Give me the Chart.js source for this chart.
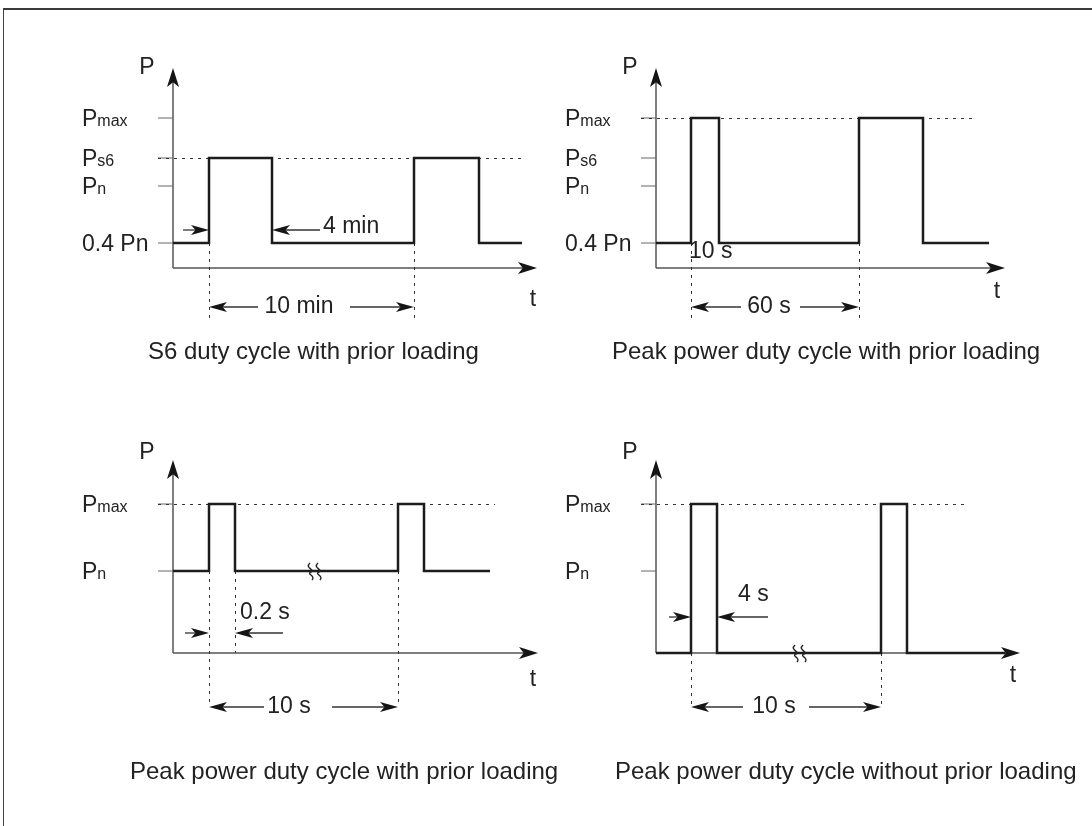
<!DOCTYPE html>
<html>
<head>
<meta charset="utf-8">
<script src="https://cdn.jsdelivr.net/npm/chart.js@4.4.1/dist/chart.umd.min.js"></script>
<style>
    html, body { margin: 0; padding: 0; background: #fff; }
    #page { position: relative; width: 1092px; height: 826px; overflow: hidden; }
    #frame { position: absolute; left: 3px; top: 8px; right: -2px; bottom: -2px; border-top: 2px solid #3a3a3a; border-left: 1px solid #444; }
    canvas { position: absolute; left: 0; top: 0; }
</style>
</head>
<body>
<div id="page">
    <div id="frame"></div>
    <canvas id="c1" width="1092" height="826"></canvas>
    <canvas id="c2" width="1092" height="826"></canvas>
    <canvas id="c3" width="1092" height="826"></canvas>
    <canvas id="c4" width="1092" height="826"></canvas>
</div>
<script>
// time and power are in arbitrary diagram units (the sketch is not to scale)
const s6Time = [0, 18, 49.5, 120.5, 153, 174.5];
const s6Power = [12.5, 55, 12.5, 55, 12.5, 12.5];
const peakPriorTime = [0, 17.5, 31.5, 101.5, 133.5, 166.5];
const peakPriorPower = [12.5, 75, 12.5, 75, 12.5, 12.5];
const shortPeakTime = [0, 18, 31, 112.5, 125.5, 158.5];
const shortPeakPower = [41, 74.5, 41, 74.5, 41, 41];
const noPriorTime = [0, 17.5, 30.5, 112.5, 125.5, 174.5];
const noPriorPower = [0, 74.5, 0, 74.5, 0, 0];

const topTickLabels = [['P', 'max'], ['P', 's6'], ['P', 'n'], ['0.4 Pn', '']];
const topTickLevels = [75, 55, 41, 12.5];
const bottomTickLabels = [['P', 'max'], ['P', 'n']];
const bottomTickLevels = [74.5, 41];

const captions = [
    'S6 duty cycle with prior loading',
    'Peak power duty cycle with prior loading',
    'Peak power duty cycle with prior loading',
    'Peak power duty cycle without prior loading',
];

const FONT = "'Liberation Sans', Arial, Helvetica, sans-serif";
const INK = '#222';

const panels = [
    {
        id: 'c1', time: s6Time, power: s6Power, xMax: 182, yMax: 100,
        pad: { left: 173, right: 555, top: 68, bottom: 558 },
        tickLabels: topTickLabels, tickLevels: topTickLevels, refLevel: 55, refEnd: 174.5,
        drops: [[18, 12.5, -26], [120.5, 12.5, -26]],
        span: { from: 18, to: 120.5, y: -19.5, text: '10 min', at: 63, gap: [42.5, 88.5] },
        pair: { y: 19, tailA: 5, tipA: 18, tipB: 49.5, tailB: 73.5 },
        notes: [{ text: '4 min', x: 75, y: 20.5 }],
        tLabel: [180, -16], caption: { text: captions[0], x: -12.5, y: -42 },
    },
    {
        id: 'c2', time: peakPriorTime, power: peakPriorPower, xMax: 174.5, yMax: 100,
        pad: { left: 656, right: 87, top: 68, bottom: 558 },
        tickLabels: topTickLabels, tickLevels: topTickLevels, refLevel: 75, refEnd: 158.5,
        drops: [[17.5, 12.5, -26], [101.5, 12.5, -26]],
        span: { from: 17.5, to: 101.5, y: -19.5, text: '60 s', at: 56.5, gap: [42.5, 72] },
        notes: [{ text: '10 s', x: 16.5, y: 8 }],
        tLabel: [170.5, -12], caption: { text: captions[1], x: -22, y: -42 },
    },
    {
        id: 'c3', time: shortPeakTime, power: shortPeakPower, xMax: 182.5, yMax: 96.5,
        pad: { left: 173, right: 554, top: 460, bottom: 173 },
        tickLabels: bottomTickLabels, tickLevels: bottomTickLevels, refLevel: 74.5, refEnd: 161,
        drops: [[18, 41, -26], [31, 41, 0], [112.5, 41, -26]],
        span: { from: 18, to: 112.5, y: -27, text: '10 s', at: 58, gap: [45.5, 79.5] },
        pair: { y: 10, tailA: 6, tipA: 18, tipB: 31, tailB: 55 },
        notes: [{ text: '0.2 s', x: 33.5, y: 20 }],
        breakAt: [71, 41],
        tLabel: [180, -13.5], caption: { text: captions[2], x: -21.5, y: -59.5 },
    },
    {
        id: 'c4', time: noPriorTime, power: noPriorPower, xMax: 182, yMax: 96.5,
        pad: { left: 656, right: 72, top: 460, bottom: 173 },
        tickLabels: bottomTickLabels, tickLevels: bottomTickLevels, refLevel: 74.5, refEnd: 156,
        drops: [[17.5, 0, -26], [112.5, 0, -26]],
        span: { from: 17.5, to: 112.5, y: -27, text: '10 s', at: 59, gap: [43.5, 76.5] },
        pair: { y: 18, tailA: 6.5, tipA: 17.5, tipB: 30.5, tailB: 56 },
        notes: [{ text: '4 s', x: 41, y: 29 }],
        breakAt: [72, 0],
        tLabel: [178.5, -11.5], caption: { text: captions[3], x: -20.5, y: -59.5 },
    },
];

function arrowHead(ctx, x, y, angle, len, half) {
    ctx.save();
    ctx.translate(x, y);
    ctx.rotate(angle);
    ctx.beginPath();
    ctx.moveTo(0, 0);
    ctx.lineTo(-len, -half);
    ctx.lineTo(-len * 0.75, 0);
    ctx.lineTo(-len, half);
    ctx.closePath();
    ctx.fill();
    ctx.restore();
}

function line(ctx, x1, y1, x2, y2) {
    ctx.beginPath();
    ctx.moveTo(x1, y1);
    ctx.lineTo(x2, y2);
    ctx.stroke();
}

const diagramPlugin = {
    id: 'diagram',
    beforeDatasetsDraw(chart) {
        const p = chart.options.plugins.diagram;
        const { ctx } = chart;
        const xs = chart.scales.x, ys = chart.scales.y;
        const X = (v) => xs.getPixelForValue(v);
        const Y = (v) => ys.getPixelForValue(v);
        const ox = X(0), oy = Y(0);

        ctx.save();
        // axes
        ctx.strokeStyle = '#555';
        ctx.fillStyle = '#151515';
        ctx.lineWidth = 1.5;
        line(ctx, ox, oy, ox, Y(p.yMax) + 10);
        line(ctx, ox, oy, X(p.xMax) - 10, oy);
        arrowHead(ctx, ox, Y(p.yMax), -Math.PI / 2, 19, 6);
        arrowHead(ctx, X(p.xMax), oy, 0, 19, 6);

        // ticks
        ctx.strokeStyle = '#666';
        ctx.lineWidth = 1;
        p.tickLevels.forEach((lv) => line(ctx, ox - 15, Y(lv), ox, Y(lv)));

        // dotted reference and drop lines
        ctx.strokeStyle = '#333';
        ctx.setLineDash([3, 5]);
        line(ctx, ox - 15, Math.round(Y(p.refLevel)) + 0.5, X(p.refEnd), Math.round(Y(p.refLevel)) + 0.5);
        p.drops.forEach(([x, y1, y2]) => {
            const px = Math.round(X(x)) + 0.5;
            line(ctx, px, Y(y1), px, Y(y2));
        });
        ctx.setLineDash([]);
        ctx.restore();
    },
    afterDatasetsDraw(chart) {
        const p = chart.options.plugins.diagram;
        const { ctx } = chart;
        const xs = chart.scales.x, ys = chart.scales.y;
        const X = (v) => xs.getPixelForValue(v);
        const Y = (v) => ys.getPixelForValue(v);
        const ox = X(0);

        ctx.save();
        ctx.fillStyle = INK;
        ctx.strokeStyle = '#333';
        ctx.lineWidth = 1.3;

        // axis names
        ctx.font = `23px ${FONT}`;
        ctx.textAlign = 'center';
        ctx.textBaseline = 'middle';
        ctx.fillText('P', ox - 26, Y(100));
        ctx.fillText('t', X(p.tLabel[0]), Y(p.tLabel[1]));

        // tick labels with subscripts
        ctx.textAlign = 'left';
        ctx.textBaseline = 'alphabetic';
        p.tickLabels.forEach(([main, sub], i) => {
            const y = Y(p.tickLevels[i]) + 8;
            const x = ox - 91;
            ctx.font = `23px ${FONT}`;
            ctx.fillText(main, x, y);
            if (sub) {
                const w = ctx.measureText(main).width;
                ctx.font = `16px ${FONT}`;
                ctx.fillText(sub, x + w, y);
            }
        });

        // dimension line with centered text
        const s = p.span;
        const sy = Y(s.y);
        line(ctx, X(s.from) + 8, sy, X(s.gap[0]), sy);
        line(ctx, X(s.gap[1]), sy, X(s.to) - 8, sy);
        ctx.fillStyle = '#151515';
        arrowHead(ctx, X(s.from), sy, Math.PI, 18, 5);
        arrowHead(ctx, X(s.to), sy, 0, 18, 5);
        ctx.fillStyle = INK;
        ctx.font = `23px ${FONT}`;
        ctx.textAlign = 'center';
        ctx.textBaseline = 'middle';
        ctx.fillText(s.text, X(s.at), sy);

        // pair of arrows pointing at a pulse
        if (p.pair) {
            const a = p.pair;
            const ay = Y(a.y);
            line(ctx, X(a.tailA), ay, X(a.tipA) - 8, ay);
            line(ctx, X(a.tipB) + 8, ay, X(a.tailB), ay);
            ctx.fillStyle = '#151515';
            arrowHead(ctx, X(a.tipA), ay, 0, 18, 5);
            arrowHead(ctx, X(a.tipB), ay, Math.PI, 18, 5);
        }

        // free notes
        ctx.fillStyle = INK;
        ctx.textAlign = 'left';
        p.notes.forEach((n) => ctx.fillText(n.text, X(n.x), Y(n.y)));

        // break mark
        if (p.breakAt) {
            const bx = X(p.breakAt[0]), by = Y(p.breakAt[1]);
            ctx.lineWidth = 1.4;
            ctx.strokeStyle = '#222';
            [-4, 4].forEach((d) => {
                const cx = bx + d;
                ctx.beginPath();
                ctx.moveTo(cx - 1, by - 8);
                ctx.bezierCurveTo(cx - 7, by - 3, cx + 5, by - 1, cx, by + 1);
                ctx.bezierCurveTo(cx - 5, by + 3, cx + 5, by + 5, cx + 1, by + 9);
                ctx.stroke();
            });
        }

        // caption
        ctx.fillStyle = INK;
        ctx.font = `24px ${FONT}`;
        ctx.textAlign = 'left';
        ctx.fillText(p.caption.text, X(p.caption.x), Y(p.caption.y));
        ctx.restore();
    },
};

panels.forEach((panel) => {
    const points = panel.time.map((t, i) => ({ x: t, y: panel.power[i] }));
    new Chart(document.getElementById(panel.id), {
        type: 'line',
        data: {
            datasets: [{
                data: points,
                stepped: true,
                borderColor: '#1c1c1c',
                borderWidth: 2.5,
                borderJoinStyle: 'miter',
                borderCapStyle: 'butt',
                pointRadius: 0,
                fill: false,
                clip: false,
            }],
        },
        options: {
            responsive: false,
            animation: false,
            events: [],
            layout: { padding: panel.pad },
            scales: {
                x: { type: 'linear', display: false, min: 0, max: panel.xMax },
                y: { type: 'linear', display: false, min: 0, max: panel.yMax },
            },
            plugins: {
                legend: { display: false },
                tooltip: { enabled: false },
                diagram: panel,
            },
        },
        plugins: [diagramPlugin],
    });
});
</script>
</body>
</html>
